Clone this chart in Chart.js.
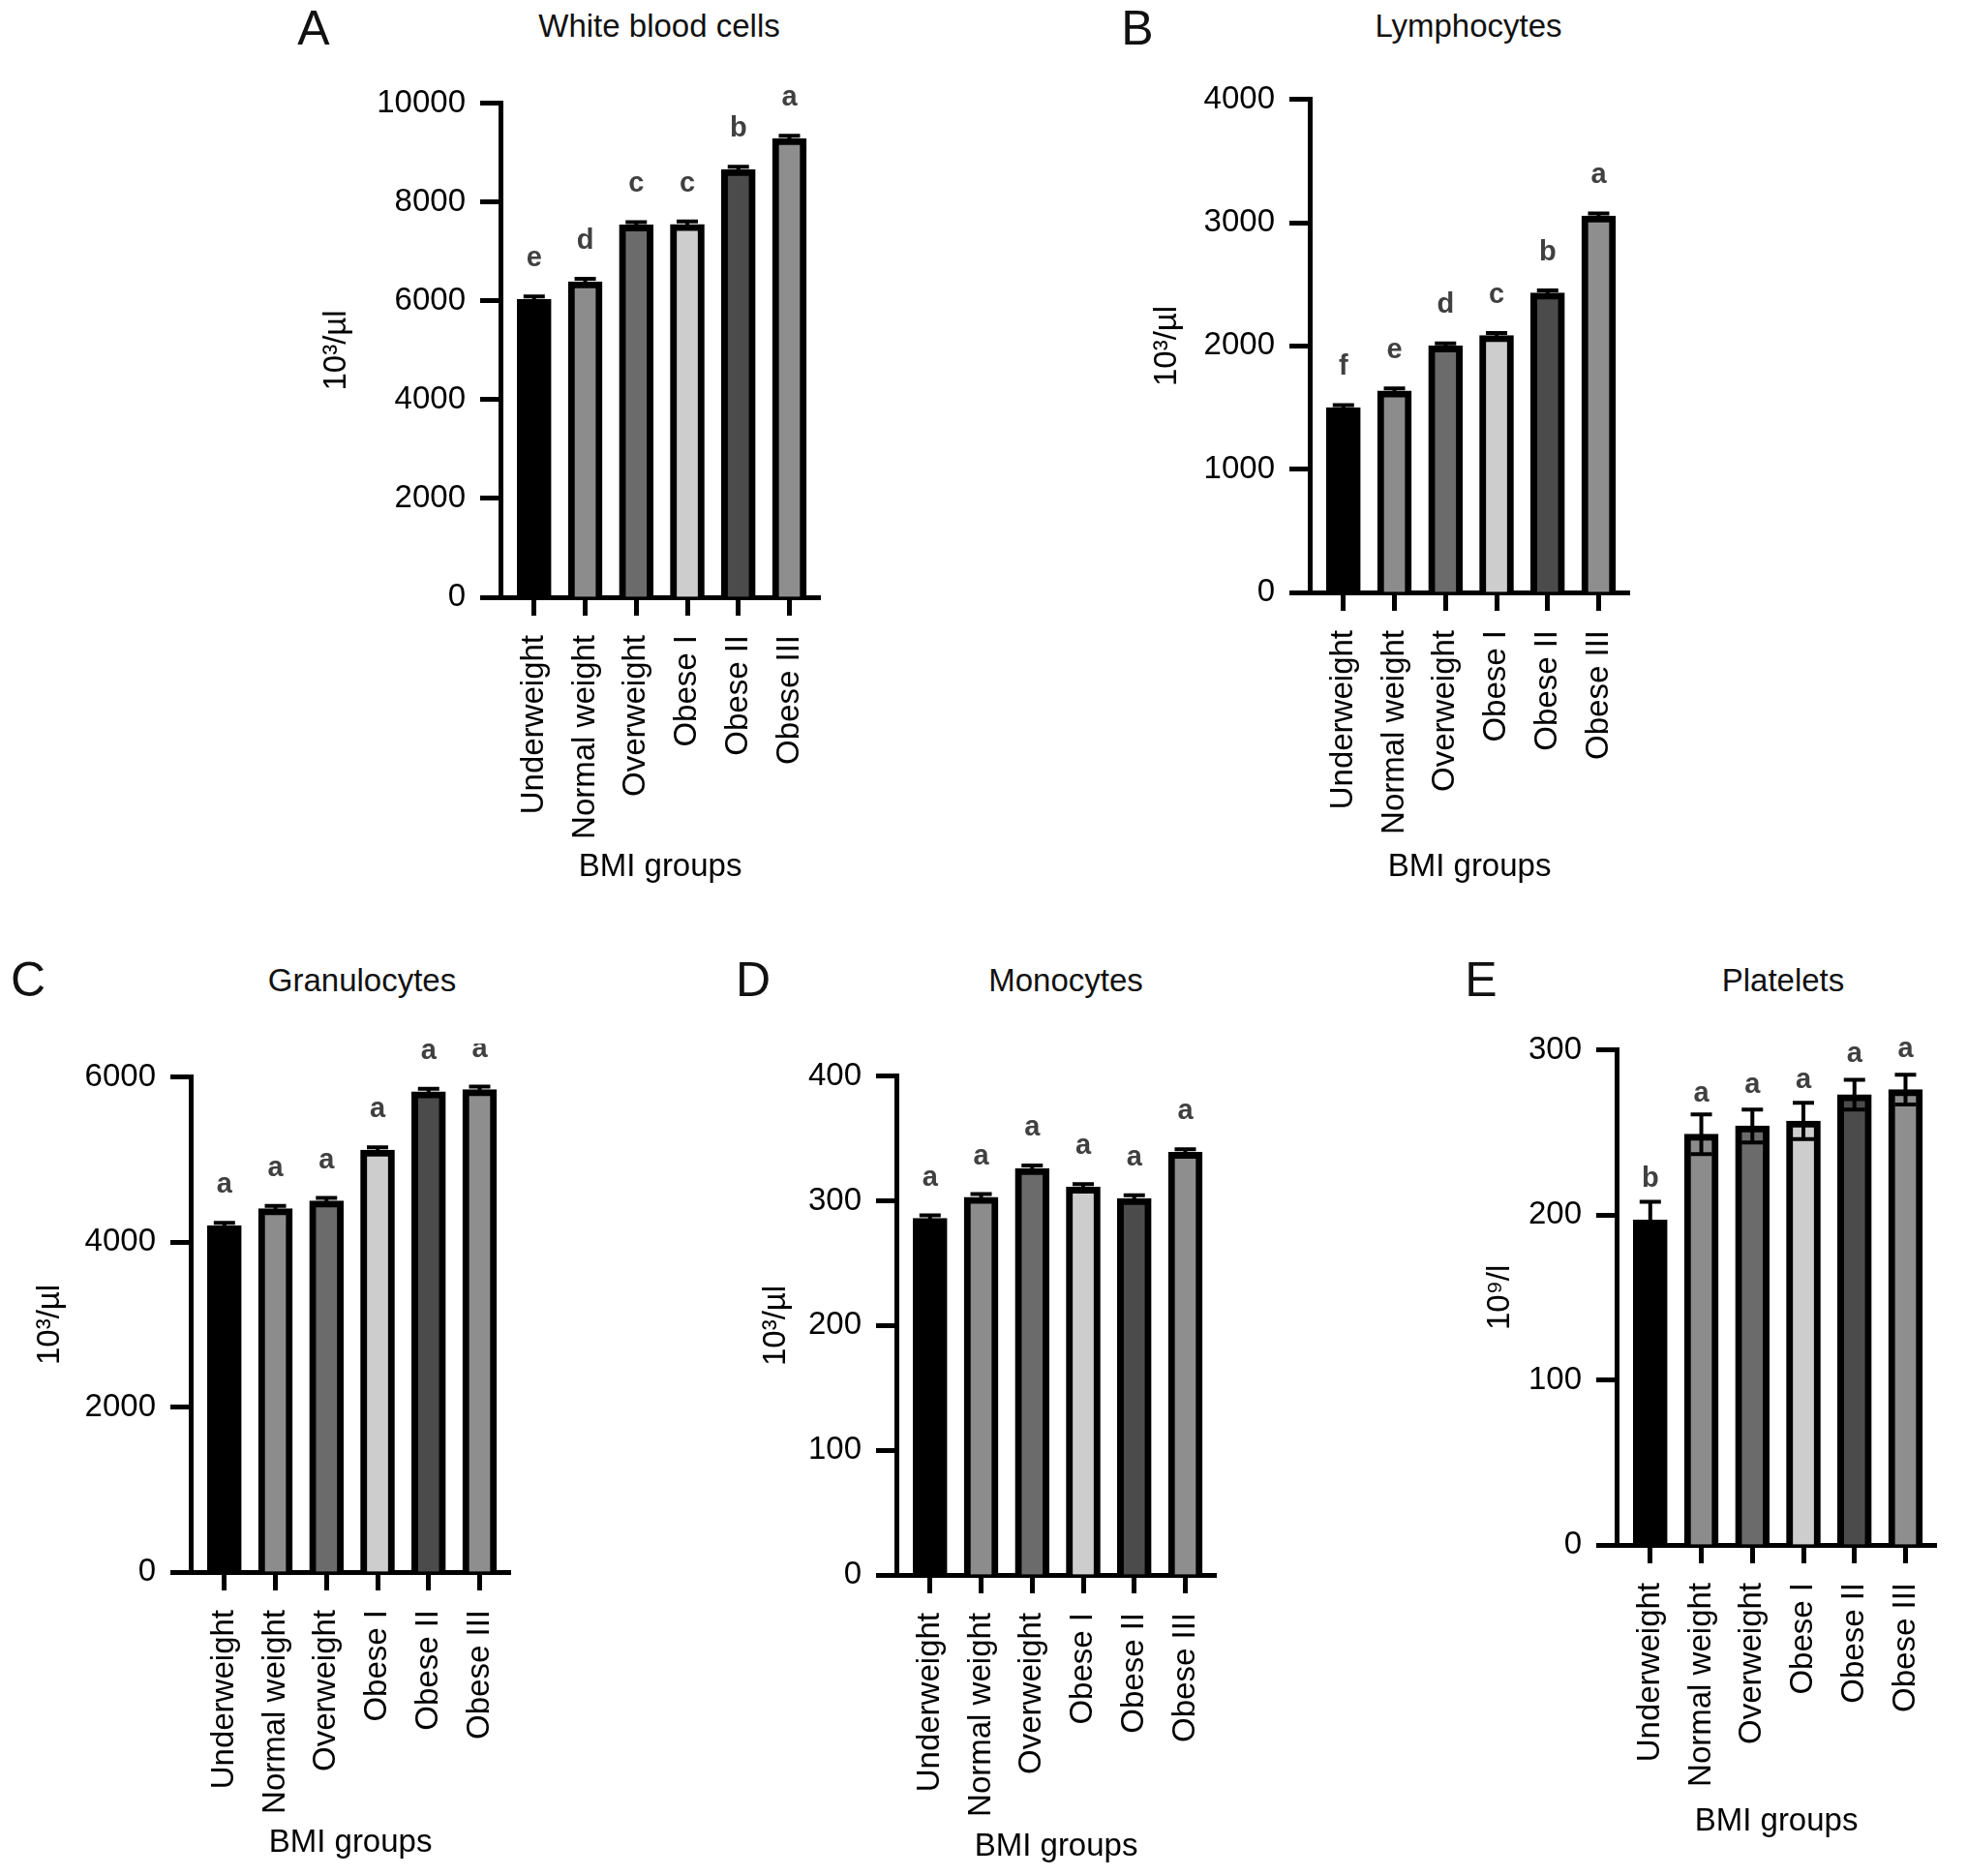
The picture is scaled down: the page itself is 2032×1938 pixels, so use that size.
<!DOCTYPE html>
<html><head><meta charset="utf-8">
<script src="https://cdn.jsdelivr.net/npm/chart.js@4.4.1/dist/chart.umd.min.js"></script>
<style>
html,body{margin:0;padding:0;background:#fff;width:2032px;height:1938px;overflow:hidden;position:relative;font-family:"Liberation Sans",Arial,Helvetica,sans-serif;}
.box{position:absolute;}
.txt{position:absolute;transform:translate(-50%,-50%);white-space:nowrap;color:#111;line-height:1;}
</style></head><body>
<script>
// ---------- data ----------
const categories = ['Underweight','Normal weight','Overweight','Obese I','Obese II','Obese III'];
const barColors = ['#000000','#8c8c8c','#6b6b6b','#cdcdcd','#4b4b4b','#8e8e8e'];

const wbcValues  = [6030, 6390, 7540, 7550, 8660, 9290];
const wbcErrors  = [60, 60, 55, 60, 55, 55];
const wbcLetters = ['e','d','c','c','b','a'];
const wbcTicks   = [0, 2000, 4000, 6000, 8000, 10000];

const lymValues  = [1500, 1635, 2000, 2085, 2430, 3055];
const lymErrors  = [20, 20, 20, 20, 20, 20];
const lymLetters = ['f','e','d','c','b','a'];
const lymTicks   = [0, 1000, 2000, 3000, 4000];

const graValues  = [4200, 4405, 4500, 5115, 5825, 5850];
const graErrors  = [35, 35, 35, 35, 35, 35];
const graLetters = ['a','a','a','a','a','a'];
const graTicks   = [0, 2000, 4000, 6000];

const monValues  = [286, 303, 326, 311, 302, 339];
const monErrors  = [2.5, 2.5, 2.5, 2.5, 2.5, 2.5];
const monLetters = ['a','a','a','a','a','a'];
const monTicks   = [0, 100, 200, 300, 400];

const pltValues  = [197, 249, 254, 257, 273, 276];
const pltErrors  = [11, 12, 10, 11, 9, 9];
const pltLetters = ['b','a','a','a','a','a'];
const pltTicks   = [0, 100, 200, 300];

// ---------- layout ----------
const FONT = '"Liberation Sans", Arial, Helvetica, sans-serif';
const panels = [
  {title:'White blood cells', tag:'A', unit:'10³/µl', values:wbcValues, errors:wbcErrors, letters:wbcLetters, ticks:wbcTicks,
   plotLeft:517, plotTop:102, plotH:515, yWidth:200, yGap:169, xGap:279, titleX:681, titleY:26, tagX:324, tagY:29},
  {title:'Lymphocytes', tag:'B', unit:'10³/µl', values:lymValues, errors:lymErrors, letters:lymLetters, ticks:lymTicks,
   plotLeft:1353, plotTop:98, plotH:514, yWidth:200, yGap:147, xGap:284, titleX:1517, titleY:26, tagX:1175, tagY:29},
  {title:'Granulocytes', tag:'C', unit:'10³/µl', values:graValues, errors:graErrors, letters:graLetters, ticks:graTicks,
   plotLeft:197, plotTop:1108, plotH:516, yWidth:190, yGap:145, xGap:280, titleX:374, titleY:1012, tagX:29, tagY:1012},
  {title:'Monocytes', tag:'D', unit:'10³/µl', values:monValues, errors:monErrors, letters:monLetters, ticks:monTicks,
   plotLeft:926, plotTop:1107, plotH:520, yWidth:200, yGap:124, xGap:281, titleX:1101, titleY:1012, tagX:778, tagY:1012},
  {title:'Platelets', tag:'E', unit:'10⁹/l', values:pltValues, errors:pltErrors, letters:pltLetters, ticks:pltTicks,
   plotLeft:1670, plotTop:1080, plotH:516, yWidth:200, yGap:120, xGap:286, titleX:1842, titleY:1012, tagX:1530, tagY:1012}
];

function addText(txt, x, y, size){
  const d = document.createElement('div');
  d.className = 'txt';
  d.style.left = x + 'px'; d.style.top = y + 'px'; d.style.fontSize = size + 'px';
  d.textContent = txt;
  document.body.appendChild(d);
}

function makePanel(p){
  const H_X = 306, PAD_T = 30, PAD_R = 20, PLOT_W = 340;
  const left = p.plotLeft - p.yWidth, top = p.plotTop - PAD_T;
  const w = p.yWidth + PLOT_W + PAD_R, h = PAD_T + p.plotH + H_X;
  const div = document.createElement('div');
  div.className = 'box';
  div.style.left = left + 'px'; div.style.top = top + 'px';
  div.style.width = w + 'px'; div.style.height = h + 'px';
  const cv = document.createElement('canvas');
  div.appendChild(cv);
  document.body.appendChild(div);

  addText(p.title, p.titleX, p.titleY, 33);
  addText(p.tag, p.tagX, p.tagY, 50);

  const decor = {
    id: 'decor' + p.tag,
    afterDatasetsDraw(chart){
      const ctx = chart.ctx, xs = chart.scales.x, ys = chart.scales.y;
      ctx.save();
      ctx.strokeStyle = '#000';
      ctx.lineWidth = 4;
      p.values.forEach((v, i) => {
        const e = p.errors[i];
        const x = xs.getPixelForValue(i);
        const yT = ys.getPixelForValue(v + e), yB = ys.getPixelForValue(v - e);
        ctx.beginPath();
        ctx.moveTo(x, yT); ctx.lineTo(x, yB);
        ctx.moveTo(x - 11, yT); ctx.lineTo(x + 11, yT);
        ctx.moveTo(x - 11, yB); ctx.lineTo(x + 11, yB);
        ctx.stroke();
      });
      ctx.fillStyle = '#404040';
      ctx.font = 'bold 29px ' + FONT;
      ctx.textAlign = 'center';
      ctx.textBaseline = 'alphabetic';
      p.values.forEach((v, i) => {
        ctx.fillText(p.letters[i], xs.getPixelForValue(i), ys.getPixelForValue(v) - 34);
      });
      ctx.restore();
    }
  };

  new Chart(cv, {
    type: 'bar',
    data: {
      datasets: [{
        data: p.values.map((v, i) => ({x: i, y: v})),
        backgroundColor: barColors,
        borderColor: '#000',
        borderWidth: 7,
        borderSkipped: 'start',
        barThickness: 35
      }]
    },
    options: {
      responsive: true, maintainAspectRatio: false, animation: false,
      layout: {padding: {top: PAD_T, right: PAD_R, bottom: 0, left: 0}},
      plugins: {legend: {display: false}, tooltip: {enabled: false}},
      scales: {
        x: {
          type: 'linear', min: -0.66, max: 5.6, offset: false,
          afterBuildTicks: s => { s.ticks = categories.map((c, i) => ({value: i})); },
          afterFit: s => { s.height = H_X; },
          ticks: {callback: v => categories[v], autoSkip: false, minRotation: 90, maxRotation: 90,
                  padding: 20, color: '#000', font: {size: 33, family: FONT}},
          grid: {offset: false, drawOnChartArea: false, drawTicks: true, tickLength: 19, tickWidth: 5, tickColor: '#000'},
          border: {display: true, width: 5, color: '#000'},
          title: {display: true, text: 'BMI groups', color: '#000', font: {size: 33, family: FONT},
                  padding: {top: 0, bottom: Math.max(0, H_X - 19.8 - p.xGap)}}
        },
        y: {
          min: 0, max: p.ticks[p.ticks.length - 1],
          afterBuildTicks: s => { s.ticks = p.ticks.map(v => ({value: v})); },
          afterFit: s => { s.width = p.yWidth; },
          ticks: {callback: v => String(v), padding: 15, color: '#000', font: {size: 33, family: FONT}},
          grid: {drawOnChartArea: false, drawTicks: true, tickLength: 21, tickWidth: 5, tickColor: '#000'},
          border: {display: true, width: 5, color: '#000'},
          title: {display: true, text: p.unit, color: '#000', font: {size: 33, family: FONT},
                  padding: {top: Math.max(0, p.yWidth - p.yGap - 19.8), bottom: 0}}
        }
      }
    },
    plugins: [decor]
  });
}

panels.forEach(makePanel);
</script>
</body></html>
